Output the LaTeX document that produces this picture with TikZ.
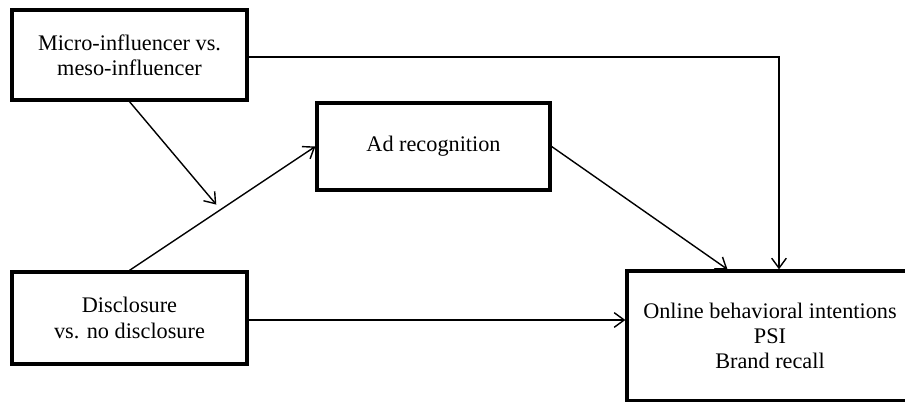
\documentclass[tikz,border=0pt]{standalone}
\usepackage{fontspec}
\setmainfont{Liberation Serif}
\usetikzlibrary{arrows.meta,calc,positioning}
\tikzset{
  factor/.style={draw=black,line width=2.8pt,fill=white,align=center,
                 inner sep=2pt,font=\fontsize{19}{21.5}\selectfont},
  flow/.style={-{Straight Barb[length=3mm,width=4.4mm,line width=1.2pt]},line width=1.2pt},
  link/.style={line width=1.2pt},
}

\begin{document}
\begin{tikzpicture}[x=1cm,y=1cm]
  \useasboundingbox (0,0) rectangle (27.15,12.03);

  \node[factor,minimum width=7.05cm,minimum height=2.7cm] (micro) at (3.885,10.38)
    {Micro-influencer vs.\\meso-influencer};
  \node[factor,minimum width=6.99cm,minimum height=2.61cm] (ad) at (13.005,7.635)
    {Ad recognition};
  \node[factor,minimum width=7.05cm,minimum height=2.76cm] (dis) at (3.885,2.49)
    {Disclosure\\vs. no disclosure};
  \node[factor,minimum width=8.58cm,minimum height=3.9cm] (out) at (23.1,1.95)
    {Online behavioral intentions\\PSI\\Brand recall};

  % direct paths
  \coordinate (turn) at (23.37,10.32);
  \draw[flow] (micro.east |- turn) -- (turn) -- (turn |- out.north);
  \draw[flow] (dis.north) -- (ad.west);
  \draw[flow] (ad.east) -- ($(out.north west)!0.353!(out.north east)$);
  \draw[flow] (dis.east |- 0,2.43) -- (out.west |- 0,2.43);

  % moderation
  \coordinate (mid) at ($(dis.north)!0.49!(ad.west)$);
  \draw[flow,shorten >=0.2cm] (micro.south) -- (mid);
\end{tikzpicture}
\end{document}
